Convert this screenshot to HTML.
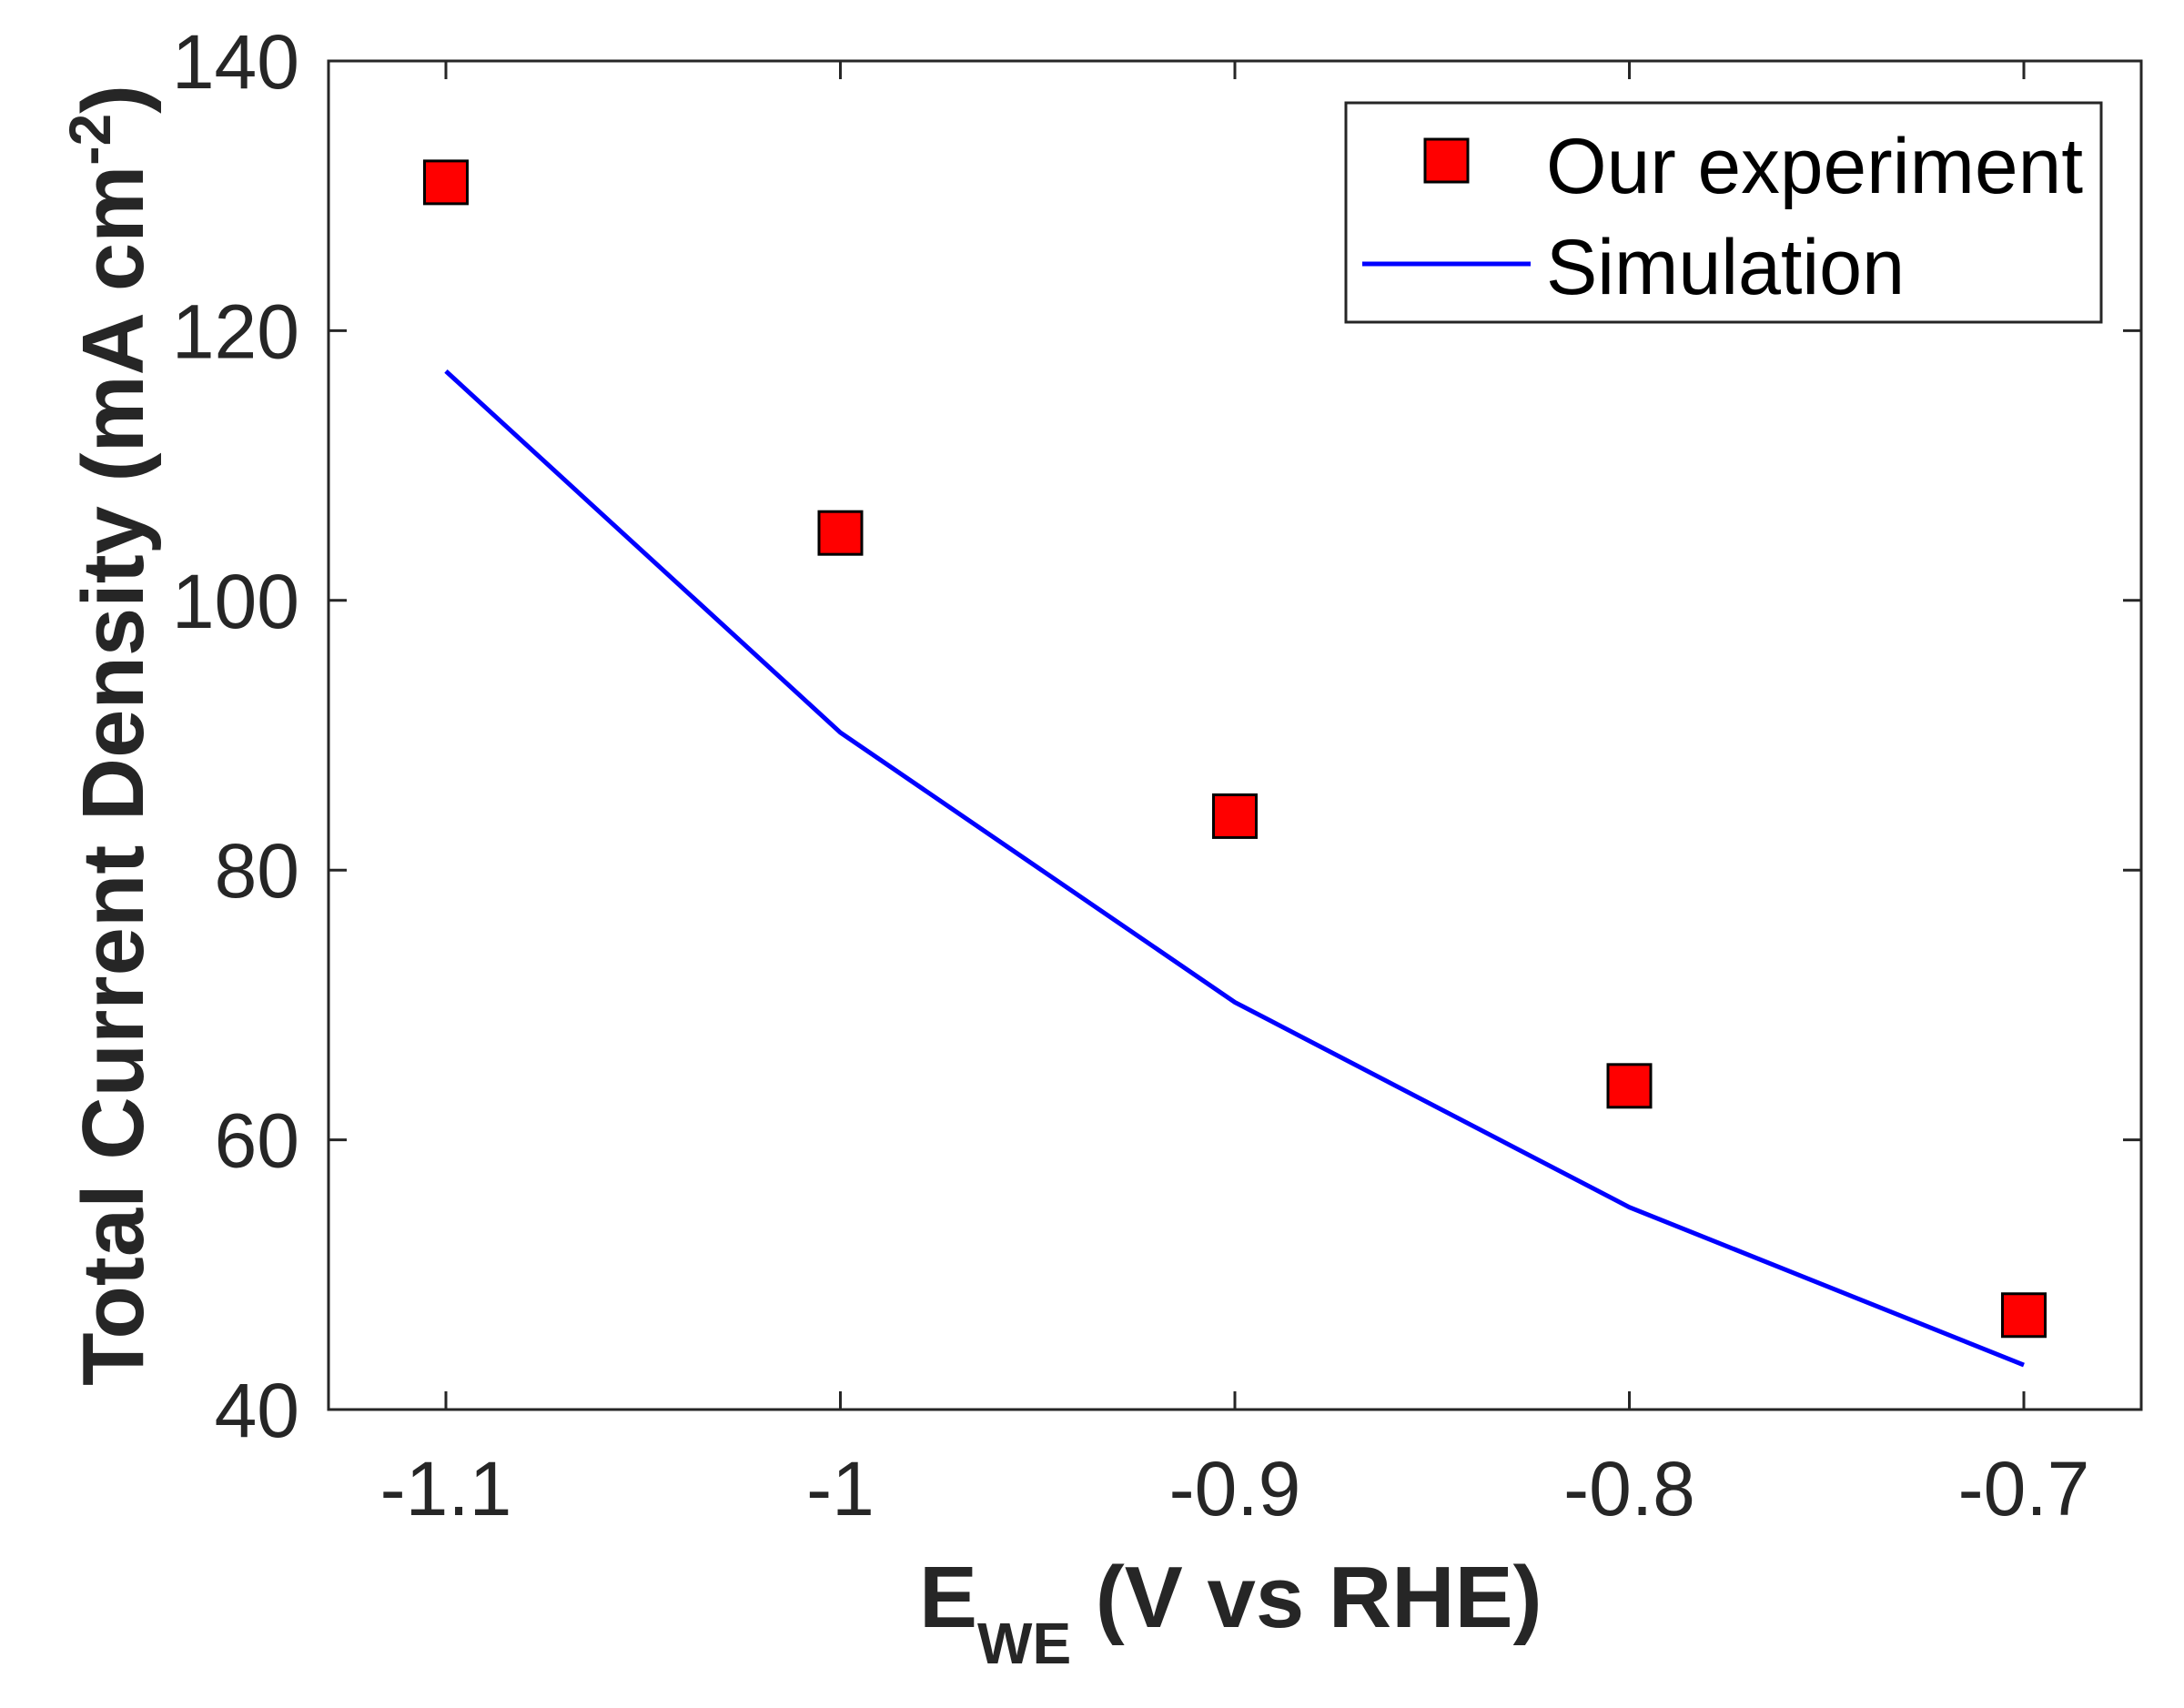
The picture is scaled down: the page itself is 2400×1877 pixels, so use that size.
<!DOCTYPE html>
<html><head><meta charset="utf-8"><style>html,body{margin:0;padding:0;background:#fff}svg{display:block}</style></head>
<body>
<svg id="chart" width="2400" height="1877" viewBox="0 0 2400 1877" xmlns="http://www.w3.org/2000/svg" font-family="'Liberation Sans', Arial, sans-serif">
<rect width="2400" height="1877" fill="#fff"/>
<g id="plot"></g>
<g>
<rect x="1479" y="113" width="830" height="241" fill="#fff" stroke="#262626" stroke-width="3"/>
<rect x="1566" y="153" width="47" height="47" fill="#ff0000" stroke="#000" stroke-width="3"/>
<text x="1699" y="212" font-size="86" textLength="590" lengthAdjust="spacingAndGlyphs" fill="#000">Our experiment</text>
<line x1="1497" y1="290" x2="1682" y2="290" stroke="#0000ff" stroke-width="5"/>
<text x="1699" y="323" font-size="86" textLength="394" lengthAdjust="spacingAndGlyphs" fill="#000">Simulation</text>
</g>
<text x="1010" y="1788" font-size="96" font-weight="bold" fill="#262626">E<tspan font-size="64" dy="40">WE</tspan><tspan dy="-40"> (V vs RHE)</tspan></text>
<text transform="translate(157,808) rotate(-90)" text-anchor="middle" font-size="96" font-weight="bold" fill="#262626" textLength="1430" lengthAdjust="spacingAndGlyphs">Total Current Density (mA cm<tspan font-size="64" dy="-36">-2</tspan><tspan dy="36">)</tspan></text>
</svg>
<script>
const xCategories = [-1.1, -1.0, -0.9, -0.8, -0.7];
const experimentValues = [131, 105, 84, 64, 47];
const simulationValues = [117, 90.2, 70.2, 55, 43.3];
const xTickValues = [-1.1, -1.0, -0.9, -0.8, -0.7];
const xTickLabels = ["-1.1", "-1", "-0.9", "-0.8", "-0.7"];
const yTickValues = [40, 60, 80, 100, 120, 140];
const yTickLabels = ["40", "60", "80", "100", "120", "140"];

const NS = "http://www.w3.org/2000/svg";
const L = 361, R = 2353, T = 67, B = 1549;
const xScale = v => 490 + (v - (-1.1)) / 0.4 * (2224 - 490);
const yScale = v => B - (v - 40) / 100 * (B - T);
const g = document.getElementById('plot');
function mk(tag, attrs, parent) {
  const e = document.createElementNS(NS, tag);
  for (const k in attrs) e.setAttribute(k, attrs[k]);
  (parent || g).appendChild(e);
  return e;
}
// simulation line
const pts = xCategories.map((x, i) => xScale(x) + ',' + yScale(simulationValues[i])).join(' ');
const line = mk('polyline', {points: pts, fill: 'none', stroke: '#0000ff', 'stroke-width': 5});


// markers
xCategories.forEach((x, i) => {
  const r = mk('rect', {x: xScale(x) - 23.5, y: yScale(experimentValues[i]) - 23.5, width: 47, height: 47, fill: '#ff0000', stroke: '#000', 'stroke-width': 3});
  
  
});
// axes box
const box = mk('rect', {x: L, y: T, width: R - L, height: B - T, fill: 'none', stroke: '#262626', 'stroke-width': 3});


// x ticks
xTickValues.forEach((v, i) => {
  const x = xScale(v);
  const t1 = mk('line', {x1: x, y1: B, x2: x, y2: B - 20, stroke: '#262626', 'stroke-width': 3});
  
  
  const t2 = mk('line', {x1: x, y1: T, x2: x, y2: T + 20, stroke: '#262626', 'stroke-width': 3});
  
  
  const tx = mk('text', {x: x, y: 1665, 'text-anchor': 'middle', 'font-size': 84, fill: '#262626'});
  tx.textContent = xTickLabels[i];
  
  
});
// y ticks
yTickValues.forEach((v, i) => {
  const y = yScale(v);
  const t1 = mk('line', {x1: L, y1: y, x2: L + 20, y2: y, stroke: '#262626', 'stroke-width': 3});
  
  
  const t2 = mk('line', {x1: R, y1: y, x2: R - 20, y2: y, stroke: '#262626', 'stroke-width': 3});
  
  
  const tx = mk('text', {x: 329, y: y + 30, 'text-anchor': 'end', 'font-size': 84, fill: '#262626'});
  tx.textContent = yTickLabels[i];
  
  
});
</script>
</body></html>
